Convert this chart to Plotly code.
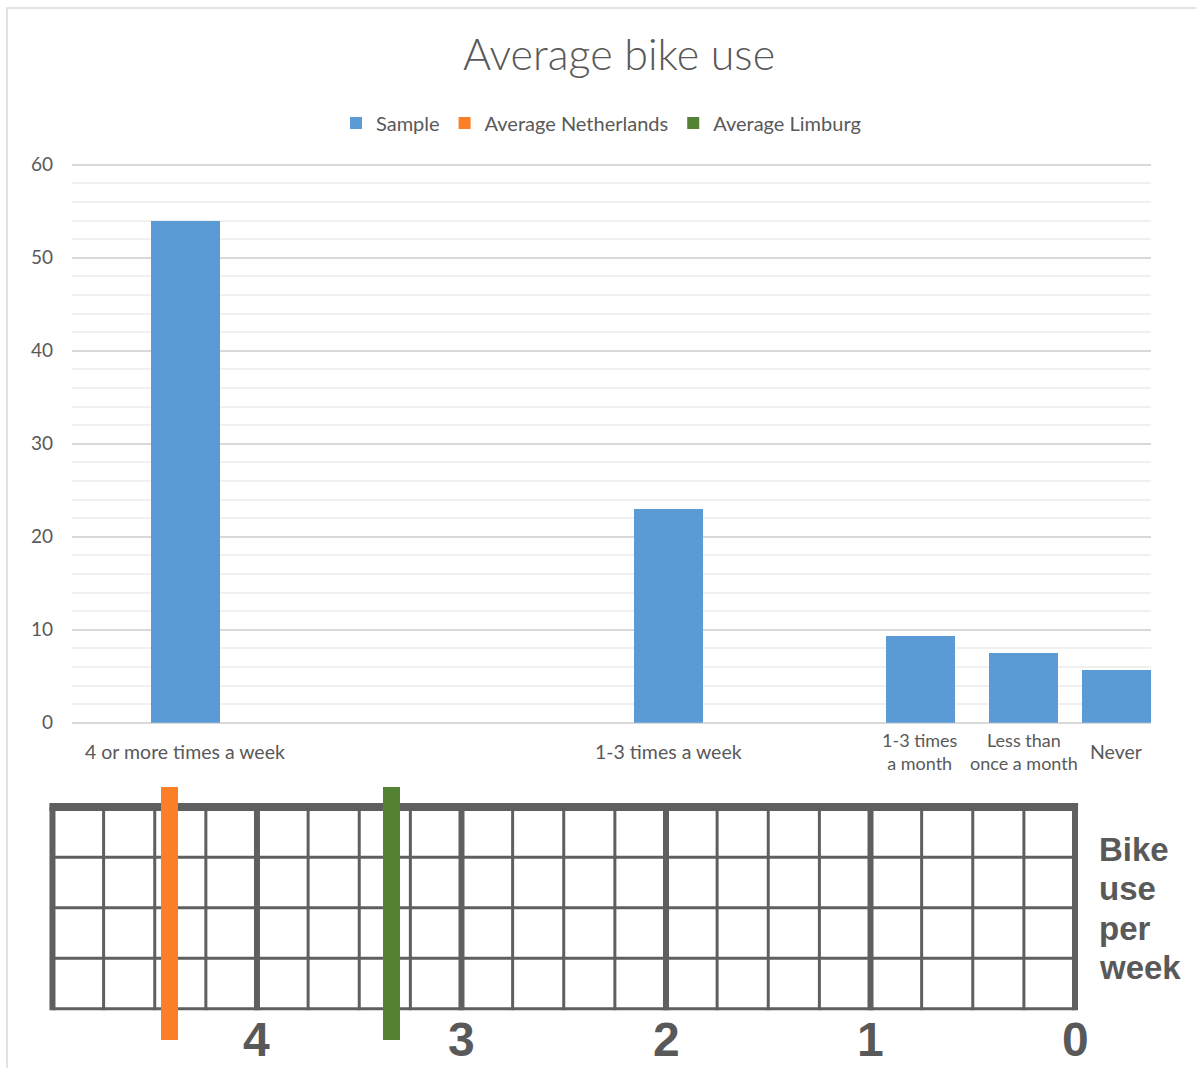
import numpy as np
import plotly.graph_objects as go

# ---- data -----------------------------------------------------------------
categories = ["4 or more times a week", "1-3 times a week",
              "1-3 times<br>a month", "Less than<br>once a month", "Never"]
sample_pct = [53.9, 22.95, 9.3, 7.55, 5.65]
# horizontal slot of each bar on the category strip
bar_slot = [1.135, 5.97, 8.49, 9.525, 10.45]

avg_netherlands = 4.43   # bike use per week
avg_limburg = 3.34       # bike use per week

week_ticks = [4, 3, 2, 1, 0]
y_ticks = [0, 10, 20, 30, 40, 50, 60]
ruler_caption = ["Bike", "use", "per", "week"]

# ---- canvas ---------------------------------------------------------------
W, H = 1196, 1068
FONT = "Lato"
TXT = "#595959"
GRID_DARK = "#5f5f5f"
Y_TOP = 60.4           # headroom so the 60 gridline is not clipped at the edge
PX_PER_UNIT = 9.3


def px_x(p):
    return p / W


def px_y(p):
    return 1 - p / H


fig = go.Figure()

# upper chart: sample distribution
fig.add_trace(go.Bar(
    x=bar_slot, y=sample_pct, width=0.69, name="Sample",
    marker=dict(color="#5b9bd5", line=dict(width=0)),
    xaxis="x", yaxis="y",
))

# lower strip: averages on the bike-use-per-week ruler
strip_bottom, strip_top = -0.63, 4.39
for val, name, col in [(avg_netherlands, "Average Netherlands", "#fb7f26"),
                       (avg_limburg, "Average Limburg", "#548235")]:
    fig.add_trace(go.Bar(
        x=[val], y=[strip_top - strip_bottom], base=[strip_bottom],
        width=0.083, name=name,
        marker=dict(color=col, line=dict(width=0)),
        xaxis="x2", yaxis="y2",
    ))

shapes = []
# ruler grid: quarter lines thin, whole units thick
for q in np.arange(0, 5.01, 0.25):
    whole = abs(q - round(q)) < 1e-9
    shapes.append(dict(type="line", xref="x2", yref="y2", x0=q, x1=q,
                       y0=-0.03, y1=4.0,
                       line=dict(color=GRID_DARK, width=6 if whole else 3),
                       layer="below"))
for r in range(0, 4):
    shapes.append(dict(type="line", xref="x2", yref="y2", x0=5.0, x1=0.0,
                       y0=r, y1=r, line=dict(color=GRID_DARK, width=3),
                       layer="below"))
# heavy top edge of the ruler
shapes.append(dict(type="line", xref="x2", yref="y2", x0=5.015, x1=-0.015,
                   y0=4.0, y1=4.0, line=dict(color=GRID_DARK, width=8),
                   layer="below"))

# chart frame
shapes.append(dict(type="rect", xref="paper", yref="paper",
                   x0=px_x(7), x1=1.05, y0=-0.05, y1=px_y(8),
                   line=dict(color="#d9d9d9", width=1.5), layer="below"))

annotations = []
# category labels under the bars
for c, s in zip(categories, bar_slot):
    two_line = "<br>" in c
    annotations.append(dict(text=c, x=s, y=px_y(751), xref="x",
                            yref="paper", showarrow=False,
                            xanchor="center", yanchor="middle",
                            font=dict(family=FONT,
                                      size=18 if two_line else 19.5,
                                      color=TXT)))
# ruler numbers
for t in week_ticks:
    annotations.append(dict(text=f"<b>{t}</b>", x=t, y=px_y(1039),
                            xref="x2", yref="paper", showarrow=False,
                            xanchor="center", yanchor="middle",
                            font=dict(family="Liberation Sans", size=48,
                                      color=TXT)))
# ruler caption, one word per line
CAP_LEAD = 39.3
for i, word in enumerate(ruler_caption):
    annotations.append(dict(text=f"<b>{word}</b>", x=px_x(1097),
                            y=px_y(870 + i * CAP_LEAD), xref="paper",
                            yref="paper", showarrow=False,
                            xanchor="left", yanchor="bottom",
                            font=dict(family="Liberation Sans", size=33,
                                      color=TXT)))

fig.update_layout(
    width=W, height=H,
    margin=dict(l=0, r=0, t=0, b=0, autoexpand=False),
    paper_bgcolor="white", plot_bgcolor="rgba(0,0,0,0)",
    title=dict(text="Average bike use", x=px_x(619), y=px_y(55),
               xanchor="center", yanchor="middle",
               font=dict(family=FONT, size=43, color=TXT, weight=300)),
    showlegend=True,
    legend=dict(orientation="h", x=px_x(601), y=px_y(123),
                xanchor="center", yanchor="middle",
                font=dict(family=FONT, size=20, color=TXT),
                itemwidth=30, traceorder="normal"),
    bargap=0,
    xaxis=dict(domain=[px_x(72), px_x(1151)], range=[0, 10.8],
               showgrid=False, zeroline=False, showticklabels=False,
               showline=False, fixedrange=True),
    yaxis=dict(domain=[px_y(722.7),
                       px_y(164.7 - (Y_TOP - 60) * PX_PER_UNIT)],
               range=[0, Y_TOP],
               tickvals=y_ticks, showline=False, automargin=False,
               gridcolor="#d9d9d9", gridwidth=1.5,
               zeroline=True, zerolinecolor="#d9d9d9", zerolinewidth=1.5,
               minor=dict(dtick=2, showgrid=True, gridcolor="#f0f0f0",
                          gridwidth=1.5),
               ticks="", ticklabelstandoff=18,
               tickfont=dict(family=FONT, size=19, color=TXT)),
    xaxis2=dict(domain=[px_x(40), px_x(1090)], range=[5.061, -0.0733],
                showgrid=False, zeroline=False, showticklabels=False,
                showline=False),
    yaxis2=dict(domain=[px_y(1050), px_y(780)], range=[-0.819, 4.533],
                showgrid=False, zeroline=False, showticklabels=False,
                showline=False),
    shapes=shapes,
    annotations=annotations,
)

fig.write_html("out.html")
